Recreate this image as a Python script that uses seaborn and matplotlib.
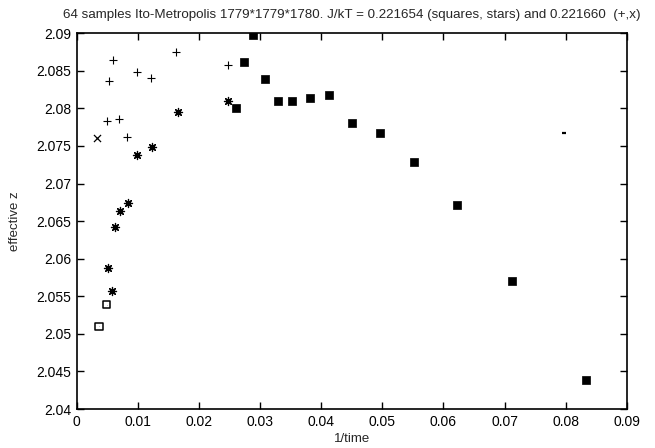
import matplotlib
matplotlib.use("Agg")
import matplotlib.pyplot as plt
from matplotlib.ticker import FuncFormatter, MultipleLocator
import seaborn as sns
import pandas as pd

# ---- data ----
squares_x = [0.0833, 0.0712, 0.0623, 0.0552, 0.0496, 0.0451, 0.0412, 0.0381,
             0.0353, 0.0330, 0.0308, 0.0289, 0.0273, 0.0260]
squares_y = [2.0438, 2.0570, 2.0671, 2.0729, 2.0767, 2.0781, 2.0818, 2.0814,
             2.0810, 2.0810, 2.0839, 2.0897, 2.0862, 2.0800]

stars_x = [0.0248, 0.0165, 0.0123, 0.0099, 0.0084, 0.0071, 0.0063, 0.0051, 0.0058]
stars_y = [2.0810, 2.0795, 2.0749, 2.0738, 2.0674, 2.0664, 2.0642, 2.0588, 2.0557]

open_sq_x = [0.0049, 0.0037]
open_sq_y = [2.0539, 2.0510]

plus_x = [0.0060, 0.0053, 0.0098, 0.0122, 0.0163, 0.0247, 0.0049, 0.0069, 0.0082]
plus_y = [2.0864, 2.0836, 2.0848, 2.0841, 2.0875, 2.0857, 2.0783, 2.0786, 2.0762]

cross_x = [0.0033]
cross_y = [2.0760]

stray_x = [0.0797]
stray_y = [2.0767]

title = "64 samples Ito-Metropolis 1779*1779*1780. J/kT = 0.221654 (squares, stars) and 0.221660  (+,x)"
xlabel = "1/time"
ylabel = "effective z"

sns.set_style("white")
plt.rcParams['font.family'] = ['Liberation Sans', 'DejaVu Sans']

fig = plt.figure(figsize=(6.55, 4.48), dpi=100)
ax = fig.add_axes([0.117, 0.087, 0.840, 0.839])

def df(x, y):
    return pd.DataFrame({"x": x, "y": y})

sns.scatterplot(data=df(squares_x, squares_y), x="x", y="y", marker="s", s=34,
                color="black", edgecolor="black", linewidth=0.5, ax=ax, zorder=3)
sns.scatterplot(data=df(stars_x, stars_y), x="x", y="y", marker=(8, 2, 0), s=34,
                color="black", linewidth=0.9, ax=ax, zorder=3)
sns.scatterplot(data=df(stars_x, stars_y), x="x", y="y", marker="s", s=5,
                color="black", linewidth=0, ax=ax, zorder=3)
sns.scatterplot(data=df(open_sq_x, open_sq_y), x="x", y="y", marker="s", s=30,
                facecolor="none", edgecolor="black", linewidth=1.1, ax=ax, zorder=3)
sns.scatterplot(data=df(open_sq_x, open_sq_y), x="x", y="y", marker=".", s=2,
                color="black", linewidth=0, ax=ax, zorder=3)
sns.scatterplot(data=df(plus_x, plus_y), x="x", y="y", marker="+", s=30,
                color="black", linewidth=0.8, ax=ax, zorder=3)
sns.scatterplot(data=df(cross_x, cross_y), x="x", y="y", marker="x", s=26,
                color="black", linewidth=0.9, ax=ax, zorder=3)
sns.scatterplot(data=df(stray_x, stray_y), x="x", y="y", marker="_", s=12,
                color="black", linewidth=1.6, ax=ax, zorder=3)

ax.set_xlim(0, 0.09)
ax.set_ylim(2.04, 2.09)
ax.xaxis.set_major_locator(MultipleLocator(0.01))
ax.yaxis.set_major_locator(MultipleLocator(0.005))
fmt = FuncFormatter(lambda v, p: ("%.3f" % v).rstrip("0").rstrip(".") if abs(v) > 1e-12 else "0")
ax.xaxis.set_major_formatter(fmt)
ax.yaxis.set_major_formatter(fmt)
ax.tick_params(direction="in", length=5, width=1, colors="black", labelsize=10,
               top=True, right=True, bottom=True, left=True, pad=4)
for sp in ax.spines.values():
    sp.set_visible(True)
    sp.set_color("black")
    sp.set_linewidth(1.2)

ax.set_xlabel(xlabel, fontsize=9.5, labelpad=3)
ax.set_ylabel(ylabel, fontsize=9.5, labelpad=11)
ax.set_title(title, fontsize=9.6, pad=11)

fig.savefig("out.png", dpi=100, facecolor="white")
